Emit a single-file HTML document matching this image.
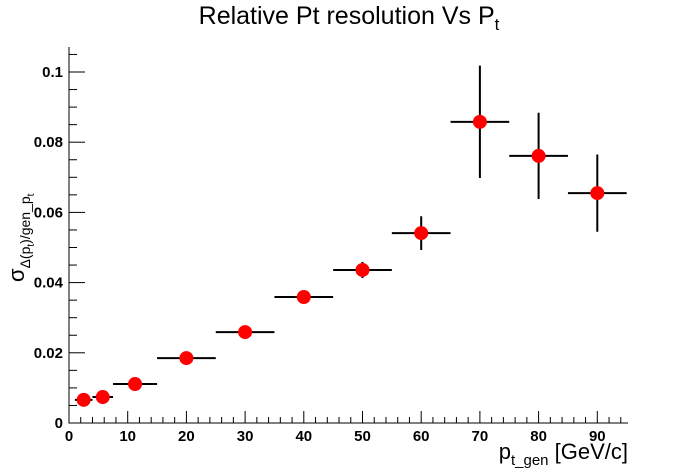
<!DOCTYPE html>
<html><head><meta charset="utf-8"><style>
body{margin:0;background:#fff}
svg{display:block;font-family:"Liberation Sans",sans-serif}
</style></head><body>
<svg id="c" width="698" height="471">
<text x="349" y="24" font-size="25" text-anchor="middle">Relative Pt resolution Vs P<tspan font-size="17" dy="6">t</tspan></text>
<text x="628" y="459" font-size="22" text-anchor="end">p<tspan font-size="15" dy="6">t_gen</tspan><tspan dy="-6"> [GeV/c]</tspan></text>
<text transform="translate(24,282) rotate(-90)" font-size="22">σ<tspan font-size="14" dy="6">Δ(p</tspan><tspan font-size="10" dy="4">t</tspan><tspan font-size="14" dy="-4">)/gen_p</tspan><tspan font-size="10" dy="4">t</tspan></text>
<g id="axes"></g><g id="marks"></g>
</svg>
<script>
const xCenters=[2.5,5.75,11.25,20,30,40,50,60,70,80,90];
const xLow=[1,4,7.5,15,25,35,45,55,65,75,85];
const xHigh=[4,7.5,15,25,35,45,55,65,75,85,95];
const yValues=[0.0066,0.0074,0.0111,0.0185,0.0259,0.0359,0.0436,0.0541,0.0858,0.0761,0.0655];
const yErrors=[0.0004,0.0004,0.0006,0.0008,0.0009,0.0012,0.0023,0.0048,0.016,0.0123,0.011];
const xTicks=[0,10,20,30,40,50,60,70,80,90];
const yTicks=[0,0.02,0.04,0.06,0.08,0.1];
const yTickLabels=["0","0.02","0.04","0.06","0.08","0.1"];
const X=v=>69+v*5.87, Y=v=>423-v*3510;
const ns="http://www.w3.org/2000/svg";
function mk(p,t,a){const e=document.createElementNS(ns,t);for(const k in a)e.setAttribute(k,a[k]);p.appendChild(e);return e;}
const ax=document.getElementById('axes'),mg=document.getElementById('marks');
const frame=mk(ax,'path',{d:`M69 47V423H628`,fill:'none',stroke:'#000','stroke-width':1});


for(let v=0;v<=95;v+=2){const maj=v%10===0;mk(ax,'line',{x1:X(v),x2:X(v),y1:423,y2:423-(maj?12:6),stroke:'#000'});}
xTicks.forEach(v=>{const t=mk(ax,'text',{x:X(v),y:441,'font-size':15,'font-weight':'bold','text-anchor':'middle'});t.textContent=v;

});
for(let i=0;i<=21;i++){const v=i*0.005;const maj=i%4===0;mk(ax,'line',{x1:69,x2:69+(maj?16:8),y1:Y(v),y2:Y(v),stroke:'#000'});}
yTicks.forEach((v,i)=>{const t=mk(ax,'text',{x:63,y:Y(v)+5,'font-size':15,'font-weight':'bold','text-anchor':'end'});t.textContent=yTickLabels[i];

});
yValues.forEach((y,i)=>{const g=mk(mg,'g',{});


mk(g,'line',{x1:X(xLow[i]),x2:X(xHigh[i]),y1:Y(y),y2:Y(y),stroke:'#000','stroke-width':2});
mk(g,'line',{x1:X(xCenters[i]),x2:X(xCenters[i]),y1:Y(y-yErrors[i]),y2:Y(y+yErrors[i]),stroke:'#000','stroke-width':2});
mk(g,'circle',{cx:X(xCenters[i]),cy:Y(y),r:7,fill:'#f00'});});
</script>
</body></html>
